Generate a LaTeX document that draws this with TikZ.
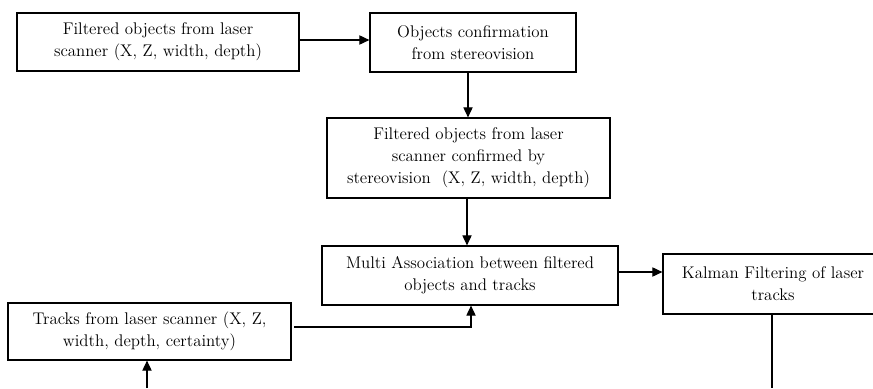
\documentclass[tikz,border=0pt]{standalone}
\usepackage{tikz}
\usetikzlibrary{arrows.meta}

\tikzset{
  blockbox/.style={draw,line width=0.85pt,align=center,inner sep=0pt,
    font=\fontsize{12}{15.6}\selectfont},
  flowline/.style={line width=0.8pt,-{Triangle[length=2.5mm,width=2.3mm]}}
}

\begin{document}
\begin{tikzpicture}[x=0.025cm,y=-0.025cm]
   \useasboundingbox (0,0) rectangle (873,388); % page
   \node [blockbox,minimum width=282*0.025cm,minimum height=58*0.025cm] (filtered) at (158,42) {Filtered objects from laser\\scanner (X, Z, width, depth)};
   \node [blockbox,minimum width=206*0.025cm,minimum height=59*0.025cm] (confirm) at (473,42.5) {Objects confirmation\\from stereovision};
   \node [blockbox,minimum width=283*0.025cm,minimum height=80*0.025cm] (confirmed) at (468.5,158) {Filtered objects from laser\\scanner confirmed by\\stereovision~ (X, Z, width, depth)};
   \node [blockbox,minimum width=296*0.025cm,minimum height=59*0.025cm] (assoc) at (470,275.5) {Multi Association between filtered\\objects and tracks};
   \node [blockbox,minimum width=220*0.025cm,minimum height=60*0.025cm] (kalman) at (773,284) {Kalman Filtering of laser\\tracks};
   \node [blockbox,minimum width=283*0.025cm,minimum height=57*0.025cm] (tracks) at (149.5,331.5) {Tracks from laser scanner (X, Z,\\width, depth, certainty)};
   \coordinate (trackin) at (147,388); % loop back from below
   \coordinate (kalmanout) at (772,388);
   \draw [flowline] (filtered.east |- 0,40) -- (confirm.west |- 0,40);
   \draw [flowline] (confirm.south -| 468,0) -- (confirmed.north -| 468,0);
   \draw [flowline] (confirmed.south -| 467,0) -- (assoc.north -| 467,0);
   \draw [flowline] (assoc.east |- 0,272) -- (kalman.west |- 0,272);
   \draw [flowline] ([xshift=2]tracks.east |- 0,327) -| (assoc.south -| 471,0); % tracks to association
   \draw [flowline] (trackin) -- (tracks.south -| trackin);
   \draw [line width=0.8pt] (kalman.south -| kalmanout) -- (kalmanout);
\end{tikzpicture}
\end{document}
